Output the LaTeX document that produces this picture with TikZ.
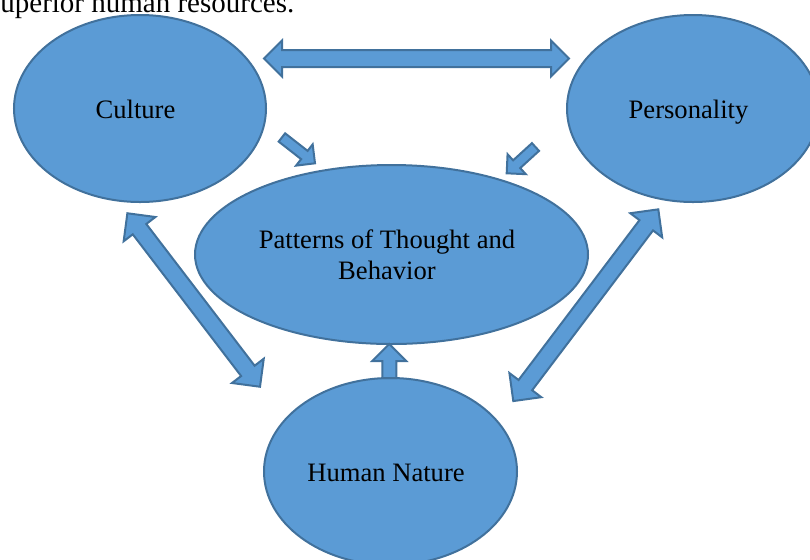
\documentclass[tikz,border=0pt]{standalone}
\usepackage{fontspec}
\setmainfont{Liberation Serif}
\usetikzlibrary{shapes.geometric}

\definecolor{ovalfill}{HTML}{5B9BD5}
\definecolor{ovaledge}{HTML}{41719C}

% fat arrow with two heads: centre, angle, length, shaft width, head width (pt)
\newcommand{\twowayarrow}[5]{%
  \begin{scope}[shift={#1}, rotate=#2, x=1pt, y=1pt]
    \path[arrowbody]
      ({-#3/2},0) -- ({-#3/2+#5/2},{#5/2}) -- ({-#3/2+#5/2},{#4/2})
      -- ({#3/2-#5/2},{#4/2}) -- ({#3/2-#5/2},{#5/2}) -- ({#3/2},0)
      -- ({#3/2-#5/2},{-#5/2}) -- ({#3/2-#5/2},{-#4/2})
      -- ({-#3/2+#5/2},{-#4/2}) -- ({-#3/2+#5/2},{-#5/2}) -- cycle;
  \end{scope}}
% fat arrow with one head: tip, angle, length, shaft width, head width (pt)
\newcommand{\onewayarrow}[5]{%
  \begin{scope}[shift={#1}, rotate=#2, x=1pt, y=1pt]
    \path[arrowbody]
      (0,0) -- ({-#5/2},{#5/2}) -- ({-#5/2},{#4/2}) -- ({-#3},{#4/2})
      -- ({-#3},{-#4/2}) -- ({-#5/2},{-#4/2}) -- ({-#5/2},{-#5/2}) -- cycle;
  \end{scope}}

\begin{document}
\begin{tikzpicture}[
    x=0.5pt, y=-0.5pt,
    oval/.style={
        ellipse,
        draw=ovaledge,
        fill=ovalfill,
        line width=1pt,
        inner sep=0pt
    },
    txt/.style={
        font=\fontsize{13.3}{15.3}\selectfont,
        align=center,
        inner sep=0pt
    },
    oneline/.style={
        txt,
        text height=9.5pt,
        text depth=0pt
    },
    arrowbody/.style={
        draw=ovaledge,
        fill=ovalfill,
        line width=1pt,
        line join=miter
    }
]
\useasboundingbox (0,0) rectangle (810,559);
\clip (0,0) rectangle (810,559);

% line of body text above the figure
\node[anchor=base west, inner sep=0pt, font=\fontsize{14.5}{17}\selectfont] (bodyline) at (0,12.7) {uperior human resources.};

% the four ovals
\node[oval, minimum width=126pt, minimum height=93.5pt] (culture) at (140,108.5) {};
\node[oval, minimum width=126pt, minimum height=93.5pt] (personality) at (693,108.5) {};
\node[oval, minimum width=196.5pt, minimum height=89.5pt] (patterns) at (391.5,254.5) {};
\node[oval, minimum width=126.5pt, minimum height=93.5pt] (nature) at (390.5,471.5) {};

\node[oneline, xshift=-2.25pt] (culturetext) at (culture) {Culture};
\node[oneline, xshift=-2.25pt] (personalitytext) at (personality) {Personality};
\node[txt, xshift=-2.25pt] (patternstext) at (patterns) {Patterns of Thought and\\Behavior};
\node[oneline, xshift=-2.25pt] (naturetext) at (nature) {Human Nature};

% block arrows
\twowayarrow{(416.5,58.5)}{0}{152.5}{8.5}{18}
\twowayarrow{(193.7,300)}{-52.6}{109.2}{8.5}{20}
\twowayarrow{(585.8,305.2)}{52.9}{120.2}{8.5}{20}

\onewayarrow{(315,163.3)}{-38}{21}{5.25}{13.5}
\onewayarrow{(506.7,173.3)}{-137.6}{19.5}{5.25}{13.5}
\onewayarrow{(389.3,344)}{90}{17}{7}{17}

\end{tikzpicture}
\end{document}
